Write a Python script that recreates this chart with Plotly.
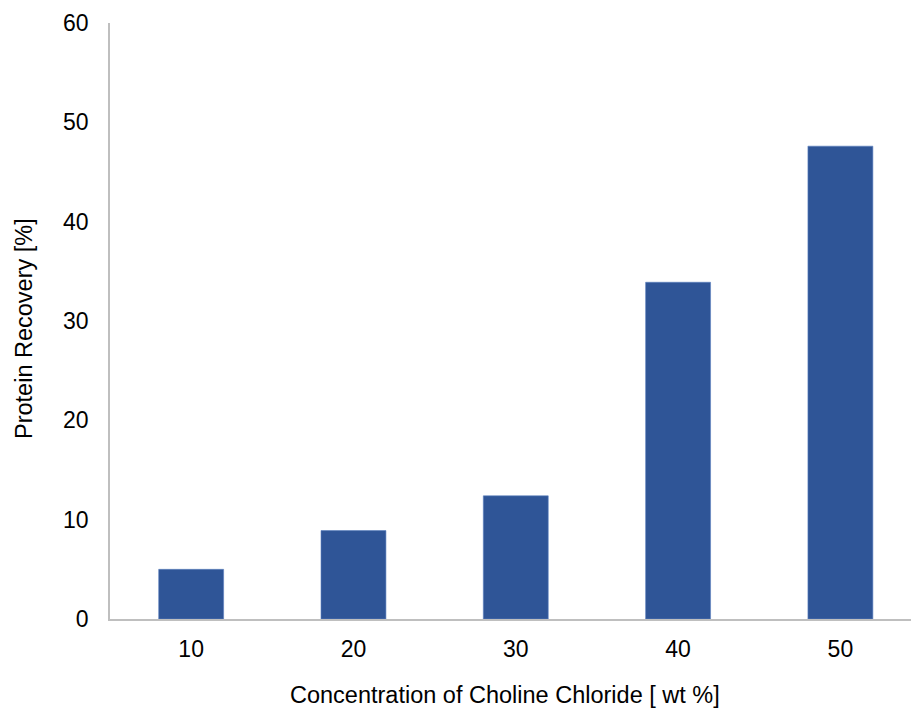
import plotly.graph_objects as go

categories = ["10", "20", "30", "40", "50"]
recovery = [5.0, 8.9, 12.4, 33.9, 47.6]
y_ticks = [0, 10, 20, 30, 40, 50, 60]

fig = go.Figure()
fig.add_trace(go.Bar(
    x=categories, y=recovery, width=0.4,
    marker=dict(color="#2F5597", line=dict(color="#5B7FC0", width=0.6)),
))

font = "Liberation Sans, Arial, sans-serif"
fig.update_layout(
    width=911, height=709,
    margin=dict(l=110, r=0, t=23, b=90),
    paper_bgcolor="white", plot_bgcolor="white",
    showlegend=False,
    font=dict(family=font, color="black"),
    xaxis=dict(
        type="category", range=[-0.5, 4.435],
        showline=True, linecolor="#BFBFBF", linewidth=1.5,
        showgrid=False, ticks="", tickfont=dict(size=23),
        ticklabelstandoff=9,
    ),
    yaxis=dict(
        range=[0, 60], tickvals=y_ticks,
        showline=True, linecolor="#BFBFBF", linewidth=1.5,
        showgrid=False, zeroline=False, ticks="", tickfont=dict(size=23),
        ticklabelstandoff=15,
    ),
    annotations=[
        dict(text="Concentration of Choline Chloride [ wt %]", xref="paper", yref="paper",
             x=(505 - 110) / 801, y=-(695 - 619) / 596, showarrow=False,
             font=dict(size=23.5, family=font), xanchor="center", yanchor="middle"),
        dict(text="Protein Recovery [%]", xref="paper", yref="paper",
             x=-(110 - 24) / 801, y=(619 - 329) / 596, showarrow=False, textangle=-90,
             font=dict(size=23.5, family=font), xanchor="center", yanchor="middle"),
    ],
)

fig.write_html("out.html", config={"displayModeBar": False},
               post_script="document.body.style.margin='0';document.body.style.overflow='hidden';")
